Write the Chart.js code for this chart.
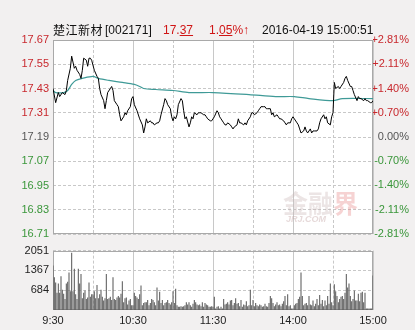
<!DOCTYPE html>
<html><head><meta charset="utf-8">
<script src="https://cdn.jsdelivr.net/npm/chart.js@4/dist/chart.umd.min.js"></script>
<style>
html,body{margin:0;padding:0;background:#f2f0f0;width:415px;height:330px;overflow:hidden;position:relative}
canvas{position:absolute;left:0}
#c1{top:0}
#c2{top:240px}
.hd{position:absolute;top:23px;line-height:14px;font-size:12px;white-space:nowrap;font-family:'Liberation Sans',sans-serif;color:#111}
.wm{position:absolute;white-space:nowrap;font-weight:bold}
</style></head><body>
<canvas id="c1" width="415" height="245"></canvas>
<canvas id="c2" width="415" height="90"></canvas>
<div class="hd" style="left:53px;font-family:'Noto Sans CJK SC';letter-spacing:0.5px">楚江新材</div>
<div class="hd" style="left:105px">[002171]</div>
<div class="hd" style="left:163px;color:#d01515">17.<u>37</u></div>
<div class="hd" style="left:209px;color:#d01515">1.<u>05</u>%↑</div>
<div class="hd" style="left:262px">2016-04-19 15:00:51</div>
<div class="wm" style="left:283px;top:184px;font-size:25px;font-family:'Noto Sans CJK SC';color:rgba(200,180,180,0.35)">金融<span style="color:rgba(230,130,130,0.35)">界</span></div>
<div class="wm" style="left:286px;top:214px;font-size:9px;font-style:italic;font-family:'Liberation Sans';color:rgba(200,170,170,0.45)">JRJ.COM</div>
<script>
// ---- data ----
const prevClose = 17.19;
const priceMin = [0,2,4,5,7,9,10,11,13,14,16,17,18,20,21,22,23,25,26,27,28,29,31,33,34,35,36,38,39,40,41,43,44,45,46,48,49,50,51,53,54,55,56,58,59,60,61,63,65,67,68,69,70,71,73,74,75,76,78,79,80,81,83,84,85,86,88,89,90,91,92,93,94,96,97,98,99,100,102,103,104,105,106,108,109,110,111,113,114,115,116,118,119,120,121,123,124,125,126,128,129,130,131,133,134,135,136,138,139,140,141,143,144,145,146,148,149,150,151,153,154,155,156,158,159,160,161,163,164,165,166,168,169,170,171,173,174,175,176,178,179,180,181,183,184,185,186,188,189,190,191,193,194,195,196,198,199,200,201,203,204,205,206,208,209,210,211,212,214,215,216,218,219,220,221,223,224,225,226,228,229,230,231,233,234,235,236,238,239,240];
const priceVal = [17.43,17.36,17.41,17.39,17.41,17.40,17.42,17.47,17.53,17.59,17.53,17.54,17.52,17.50,17.48,17.52,17.58,17.57,17.54,17.58,17.58,17.57,17.52,17.49,17.48,17.43,17.40,17.37,17.33,17.37,17.41,17.43,17.44,17.42,17.37,17.35,17.34,17.30,17.27,17.29,17.31,17.30,17.32,17.34,17.38,17.39,17.35,17.32,17.28,17.25,17.21,17.24,17.28,17.26,17.27,17.26,17.26,17.25,17.26,17.26,17.27,17.30,17.35,17.38,17.37,17.35,17.33,17.29,17.27,17.29,17.28,17.30,17.35,17.38,17.37,17.32,17.28,17.29,17.24,17.26,17.29,17.28,17.31,17.30,17.31,17.31,17.31,17.30,17.30,17.29,17.28,17.27,17.27,17.28,17.29,17.32,17.31,17.29,17.28,17.26,17.25,17.25,17.26,17.25,17.24,17.23,17.24,17.25,17.28,17.26,17.26,17.25,17.26,17.25,17.27,17.29,17.31,17.31,17.30,17.31,17.32,17.33,17.34,17.34,17.34,17.33,17.33,17.33,17.30,17.31,17.29,17.30,17.29,17.28,17.28,17.27,17.26,17.25,17.26,17.26,17.28,17.29,17.28,17.26,17.25,17.23,17.21,17.22,17.24,17.22,17.21,17.23,17.21,17.22,17.22,17.22,17.23,17.26,17.28,17.30,17.28,17.29,17.26,17.25,17.29,17.31,17.46,17.43,17.44,17.43,17.44,17.46,17.48,17.49,17.47,17.44,17.44,17.42,17.40,17.37,17.39,17.38,17.38,17.37,17.38,17.37,17.37,17.36,17.36,17.37];
const avgMin = [0,2,8,11,14,17,22,30,34,42,52,61,65,68,77,90,102,120,147,167,181,192,210,217,240];
const avgVal = [17.42,17.41,17.41,17.42,17.45,17.47,17.48,17.49,17.48,17.47,17.46,17.45,17.44,17.43,17.425,17.42,17.41,17.41,17.40,17.39,17.39,17.38,17.37,17.38,17.38];
const volAM = [1534,1134,950,594,918, 594,1166,702,562,378, 918,972,1296,648,1976, 648,1426,540,378,1426,
  918,1242,410,594,670, 378,432,950,454,540, 540,648,410,864,410, 540,702,454,324,410,
  1242,378,410,454,346, 1134,378,346,432,486, 432,562,994,270,410, 432,194,324,378,162,
  162,594,486,432,378, 540,842,162,238,270, 270,346,162,238,378, 346,270,162,778,324,
  626,238,346,162,238, 270,346,238,194,270, 648,238,734,162,108, 108,130,108,130,162,
  270,194,270,162,108, 216,346,270,194,162, 194,130,270,108,238, 194,162,108,108,130, 108];
const volPM = [454,54,108,130,54, 108,54,378,194,216, 270,194,324,346,162, 238,410,216,238,130,
  346,108,194,162,302, 130,162,702,162,346, 130,238,162,130,194, 162,108,130,216,130,
  108,238,486,410,238, 130,194,270,162,194, 130,216,302,486,162, 540,130,162,54,54,
  162,216,238,378,454, 1296,486,162,216,238, 162,486,194,162,324, 130,216,378,162,518,
  216,346,130,324,162, 486,216,918,270,162, 886,648,486,270,378, 454,486,378,594,1242,
  778,918,486,302,378, 670,324,324,562,302, 594,626,270,594,54, 54,54,54,54,1188];
const priceTicks = [16.71,16.83,16.95,17.07,17.19,17.31,17.43,17.55,17.67];
const pctTicks = [-2.81,-2.11,-1.40,-0.70,0.00,0.70,1.40,2.11,2.81];
const pctLabels = ['-2.81%','-2.11%','-1.40%','-0.70%','0.00%','+0.70%','+1.40%','+2.11%','+2.81%'];
const volTicks = [684,1367,2051];
const timeTicks = [0,60,120,180,240];
const timeLabels = ['9:30','10:30','11:30','14:00','15:00'];
const dashGrid = [30,90,150,210];

// ---- styling ----
const RED = '#c8282d', GREEN = '#3a963a', GRAY = '#555';
const GRID = '#c8c8c8';
const FONT = {family:"'Liberation Sans', sans-serif", size:11};

const frame = {
  id:'frame',
  beforeDraw(chart){
    const {ctx, chartArea:a} = chart;
    ctx.save(); ctx.fillStyle='#fff';
    ctx.fillRect(a.left,a.top,a.right-a.left,a.bottom-a.top); ctx.restore();
  },
  beforeDatasetsDraw(chart){
    const {ctx, chartArea:a} = chart;
    ctx.save(); ctx.strokeStyle='#a9a9a9'; ctx.lineWidth=1;
    const l=Math.round(a.left)+0.5, t=Math.round(a.top)+0.5, r=Math.round(a.right)-0.5, b=Math.round(a.bottom)-0.5;
    ctx.strokeRect(l,t,r-l,b-t); ctx.restore();
  }
};

function setTicks(arr){ return s => { s.ticks = arr.map(v => ({value:v})); }; }
function signColor(v, base){ return v > base + 1e-9 ? RED : (v < base - 1e-9 ? GREEN : GRAY); }

Chart.defaults.font.family = FONT.family;

new Chart(document.getElementById('c1'), {
  type:'line',
  data:{datasets:[
    {data: priceMin.map((m,i)=>({x:m,y:priceVal[i]})), borderColor:'#000', borderWidth:1, pointRadius:0, tension:0, xAxisID:'x', yAxisID:'y', order:1},
    {data: avgMin.map((m,i)=>({x:m,y:avgVal[i]})), borderColor:'#3f9a97', borderWidth:1.2, pointRadius:0, tension:0.3, xAxisID:'x', yAxisID:'y', order:2}
  ]},
  options:{
    responsive:false, animation:false, devicePixelRatio:1,
    layout:{padding:{top:40,bottom:11,left:0,right:6}},
    plugins:{legend:{display:false}, tooltip:{enabled:false}},
    scales:{
      x:{type:'linear', min:0, max:240, position:'bottom', afterBuildTicks:setTicks(dashGrid),
         ticks:{display:false}, grid:{color:GRID, drawTicks:false}, border:{display:false, dash:[3,2]}, afterFit:s=>{s.height=0;}},
      xs:{type:'linear', min:0, max:240, position:'bottom', afterBuildTicks:setTicks(timeTicks),
         ticks:{display:false}, grid:{color:GRID, drawTicks:false}, border:{display:false}, afterFit:s=>{s.height=0;}},
      y:{type:'linear', position:'left', min:16.71, max:17.67, afterBuildTicks:setTicks(priceTicks),
         ticks:{font:FONT, padding:4, color:c=>signColor(c.tick.value, prevClose), callback:(v,i)=>priceTicks[i].toFixed(2)},
         grid:{color:GRID, drawTicks:false}, border:{display:false, dash:[3,2]}, afterFit:s=>{s.width=53;}},
      y2:{type:'linear', position:'right', min:-2.81, max:2.81, afterBuildTicks:setTicks(pctTicks),
         ticks:{font:FONT, padding:0, crossAlign:'far', color:c=>signColor(c.tick.value, 0), callback:(v,i)=>pctLabels[i]},
         grid:{display:false, drawTicks:false}, border:{display:false}, afterFit:s=>{s.width=36;}}
    }
  },
  plugins:[frame]
});

const vol = volAM.concat(volPM);
new Chart(document.getElementById('c2'), {
  type:'bar',
  data:{datasets:[{data: vol.map((v,i)=>({x:i,y:v})), backgroundColor:'#5e5e5e', barPercentage:0.8, categoryPercentage:1, xAxisID:'x', yAxisID:'y'}]},
  options:{
    responsive:false, animation:false, devicePixelRatio:1,
    layout:{padding:{top:7,bottom:0,left:0,right:42}},
    plugins:{legend:{display:false}, tooltip:{enabled:false}},
    scales:{
      x:{type:'linear', min:0, max:240, offset:false, position:'bottom', afterBuildTicks:setTicks(timeTicks),
         ticks:{font:FONT, color:'#222', padding:4, autoSkip:false, maxRotation:0, callback:(v,i)=>timeLabels[i]},
         grid:{color:GRID, drawTicks:false, offset:false}, border:{display:false}, afterFit:s=>{s.height=20;}},
      xd:{type:'linear', min:0, max:240, offset:false, position:'bottom', afterBuildTicks:setTicks(dashGrid),
         ticks:{display:false}, grid:{color:GRID, drawTicks:false, offset:false}, border:{display:false, dash:[3,2]}, afterFit:s=>{s.height=0;}},
      y:{type:'linear', position:'left', min:0, max:2051, afterBuildTicks:setTicks(volTicks),
         ticks:{font:FONT, color:'#222', padding:4, callback:(v,i)=>String(volTicks[i])},
         grid:{color:GRID, drawTicks:false}, border:{display:false, dash:[3,2]}, afterFit:s=>{s.width=53;}}
    }
  },
  plugins:[frame]
});
</script>
</body></html>
